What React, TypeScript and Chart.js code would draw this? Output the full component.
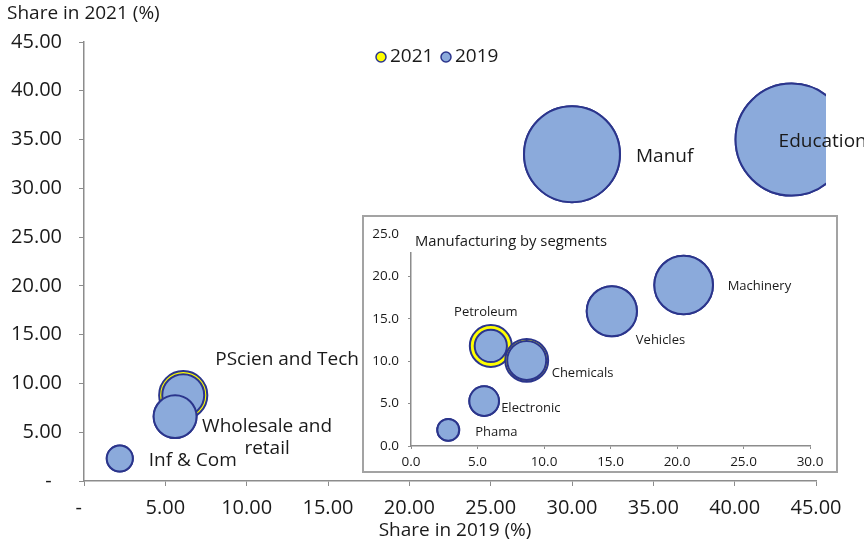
import React, { useEffect, useRef } from 'react';
import { Chart, registerables } from 'chart.js';
Chart.register(...registerables);

// ---- Main chart data ----
const sectors = ['Inf & Com', 'PScien and Tech', 'Wholesale and retail', 'Manuf', 'Education'];
const sectorShare2019 = [2.2, 6.1, 5.6, 30.0, 43.5];
const sectorShare2021 = [2.3, 8.8, 6.6, 33.5, 35.0];
const sectorSize2019 = [1.7, 4.4, 4.6, 23.0, 31.4];
const sectorSize2021 = [1.7, 5.8, 4.6, 23.0, 31.4];
const mainAxisMax = 45;
const mainStep = 5;

// ---- Inset data (Manufacturing by segments) ----
const segments = ['Phama', 'Electronic', 'Petroleum', 'Chemicals', 'Vehicles', 'Machinery'];
const segShare2019 = [2.8, 5.5, 6.0, 8.7, 15.1, 20.5];
const segShare2021 = [1.9, 5.3, 11.8, 10.1, 15.9, 19.0];
const segSize2019 = [1.2, 2.2, 2.6, 3.8, 6.3, 8.6];
const segSize2021 = [1.2, 2.2, 4.4, 4.6, 6.3, 8.6];
const insetXMax = 30;
const insetYMax = 25;

const seriesNames = ['2021', '2019'];
const insetTitle = 'Manufacturing by segments';
const xTitle = 'Share in 2019 (%)';
const yTitle = 'Share in 2021 (%)';

const BLUE = '#8BAADB';
const NAVY = '#2B358C';
const YELLOW = '#FFFF00';
const TEXT = '#1a1a1a';
const AXIS = '#8c8c8c';
const FONT = '"Open Sans", sans-serif';

const rad = (s: number) => 10 * Math.sqrt(s);

// label placement (pixel offsets from bubble centre)
const mainLabelPos = [
  { dx: 29, dy: 2, align: 'left' },
  { dx: 32, dy: -36, align: 'left' },
  { dx: 92, dy: 10, align: 'center' },
  { dx: 64, dy: 2, align: 'left' },
  { dx: -13, dy: 2, align: 'left' },
];
const insetLabelPos = [
  { dx: 27, dy: 2.5, align: 'left' },
  { dx: 17, dy: 7, align: 'left' },
  { dx: -5, dy: -34, align: 'center' },
  { dx: 25, dy: 13, align: 'left' },
  { dx: 24, dy: 29, align: 'left' },
  { dx: 44, dy: 1, align: 'left' },
];

const fmtMain = (v: number) => (v === 0 ? '-  ' : v.toFixed(2));

export default function App() {
  const mainRef = useRef<HTMLCanvasElement>(null);
  const insetRef = useRef<HTMLCanvasElement>(null);

  useEffect(() => {
    const mainLabels = {
      id: 'mainLabels',
      afterDatasetsDraw(chart: any) {
        const ctx = chart.ctx;
        const xs = chart.scales.x;
        const ys = chart.scales.y;
        ctx.save();
        ctx.fillStyle = TEXT;
        ctx.textBaseline = 'middle';
        ctx.font = `19px ${FONT}`;
        sectors.forEach((name, i) => {
          const p = mainLabelPos[i];
          const px = xs.getPixelForValue(sectorShare2019[i]) + p.dx;
          const py = ys.getPixelForValue(sectorShare2021[i]) + p.dy;
          ctx.textAlign = p.align;
          if (name === 'Wholesale and retail') {
            ctx.fillText('Wholesale and', px, py);
            ctx.fillText('retail', px, py + 22);
          } else {
            ctx.fillText(name, px, py);
          }
        });
        // axis titles
        ctx.textAlign = 'left';
        ctx.fillText(yTitle, 7, 14);
        ctx.textAlign = 'center';
        ctx.fillText(xTitle, 455, 531);
        // legend
        const ly = 57;
        const items = [
          { c: YELLOW, x: 381 },
          { c: BLUE, x: 446 },
        ];
        items.forEach((it, k) => {
          ctx.beginPath();
          ctx.arc(it.x, ly, 5, 0, Math.PI * 2);
          ctx.fillStyle = it.c;
          ctx.fill();
          ctx.lineWidth = 1.5;
          ctx.strokeStyle = NAVY;
          ctx.stroke();
          ctx.fillStyle = TEXT;
          ctx.textAlign = 'left';
          ctx.fillText(seriesNames[k], it.x + 9, ly);
        });
        ctx.restore();
      },
    };

    const main = new Chart(mainRef.current!, {
      type: 'bubble',
      data: {
        datasets: [
          {
            label: '2019',
            data: sectors.map((_, i) => ({ x: sectorShare2019[i], y: sectorShare2021[i], r: rad(sectorSize2019[i]) })),
            backgroundColor: BLUE,
            borderColor: NAVY,
            borderWidth: 2,
            clip: { left: 10, top: 10, right: 10, bottom: 10 } as any,
          },
          {
            label: '2021',
            data: sectors.map((_, i) => ({ x: sectorShare2019[i], y: sectorShare2021[i], r: rad(sectorSize2021[i]) })),
            backgroundColor: YELLOW,
            borderColor: NAVY,
            borderWidth: 2,
            clip: { left: 10, top: 10, right: 10, bottom: 10 } as any,
          },
        ],
      },
      options: {
        responsive: false,
        animation: false,
        events: [],
        layout: { autoPadding: false, padding: { left: 0, top: 42, right: 48, bottom: 0 } },
        plugins: { legend: { display: false }, tooltip: { enabled: false }, title: { display: false } },
        scales: {
          x: {
            type: 'linear',
            min: 0,
            max: mainAxisMax,
            afterFit: (s: any) => { s.height = 64; },
            ticks: { stepSize: mainStep, callback: (v: any) => fmtMain(Number(v)), color: TEXT, font: { family: FONT, size: 20 }, padding: 10, maxRotation: 0, autoSkip: false },
            grid: { display: true, drawOnChartArea: false, drawTicks: true, tickLength: 5, color: AXIS },
            border: { display: true, color: AXIS, width: 1.5 },
          },
          y: {
            type: 'linear',
            min: 0,
            max: mainAxisMax,
            afterFit: (s: any) => { s.width = 84; },
            ticks: { stepSize: mainStep, callback: (v: any) => fmtMain(Number(v)), color: TEXT, font: { family: FONT, size: 20 }, padding: 17 },
            grid: { display: true, drawOnChartArea: false, drawTicks: true, tickLength: 5, color: AXIS },
            border: { display: true, color: AXIS, width: 1.5 },
          },
        },
      },
      plugins: [mainLabels],
    } as any);

    const insetLabels = {
      id: 'insetLabels',
      afterDatasetsDraw(chart: any) {
        const ctx = chart.ctx;
        const xs = chart.scales.x;
        const ys = chart.scales.y;
        ctx.save();
        ctx.fillStyle = TEXT;
        ctx.textBaseline = 'middle';
        ctx.font = `13px ${FONT}`;
        segments.forEach((name, i) => {
          const p = insetLabelPos[i];
          ctx.textAlign = p.align;
          ctx.fillText(name, xs.getPixelForValue(segShare2019[i]) + p.dx, ys.getPixelForValue(segShare2021[i]) + p.dy);
        });
        // title with white box
        ctx.fillStyle = '#ffffff';
        ctx.fillRect(44, 16, 205, 19);
        ctx.fillStyle = TEXT;
        ctx.textAlign = 'left';
        ctx.font = `14.8px ${FONT}`;
        ctx.fillText(insetTitle, 51, 24.5);
        ctx.restore();
      },
    };

    const inset = new Chart(insetRef.current!, {
      type: 'bubble',
      data: {
        datasets: [
          {
            label: '2019',
            data: segments.map((_, i) => ({ x: segShare2019[i], y: segShare2021[i], r: rad(segSize2019[i]) })),
            backgroundColor: BLUE,
            borderColor: NAVY,
            borderWidth: 2,
            clip: false as any,
          },
          {
            label: '2021',
            data: segments.map((_, i) => ({ x: segShare2019[i], y: segShare2021[i], r: rad(segSize2021[i]) })),
            backgroundColor: YELLOW,
            borderColor: NAVY,
            borderWidth: 2,
            clip: false as any,
          },
        ],
      },
      options: {
        responsive: false,
        animation: false,
        events: [],
        layout: { autoPadding: false, padding: { left: 0, top: 14, right: 26, bottom: 0 } },
        plugins: { legend: { display: false }, tooltip: { enabled: false }, title: { display: false } },
        scales: {
          x: {
            type: 'linear',
            min: 0,
            max: insetXMax,
            afterFit: (s: any) => { s.height = 25; },
            ticks: { stepSize: 5, callback: (v: any) => Number(v).toFixed(1), color: TEXT, font: { family: FONT, size: 13.5 }, padding: 5, maxRotation: 0, autoSkip: false },
            grid: { display: true, drawOnChartArea: false, drawTicks: true, tickLength: 3, color: AXIS },
            border: { display: true, color: AXIS, width: 1.5 },
          },
          y: {
            type: 'linear',
            min: 0,
            max: insetYMax,
            afterFit: (s: any) => { s.width = 47; },
            ticks: { stepSize: 5, callback: (v: any) => Number(v).toFixed(1), color: TEXT, font: { family: FONT, size: 13.5 }, padding: 9 },
            grid: { display: true, drawOnChartArea: false, drawTicks: true, tickLength: 3, color: AXIS },
            border: { display: true, color: AXIS, width: 1.5 },
          },
        },
      },
      plugins: [insetLabels],
    } as any);

    return () => {
      main.destroy();
      inset.destroy();
    };
  }, []);

  return (
    <div style={{ position: 'absolute', left: 0, top: 0, width: 864, height: 545, background: '#fff' }}>
      <canvas ref={mainRef} width={864} height={545} style={{ position: 'absolute', left: 0, top: 0, display: 'block' }} />
      <div
        style={{
          position: 'absolute',
          left: 362,
          top: 215,
          width: 476,
          height: 258,
          boxSizing: 'border-box',
          border: '2px solid #a3a3a3',
          background: '#fff',
        }}
      >
        <canvas ref={insetRef} width={472} height={254} style={{ display: 'block' }} />
      </div>
    </div>
  );
}
